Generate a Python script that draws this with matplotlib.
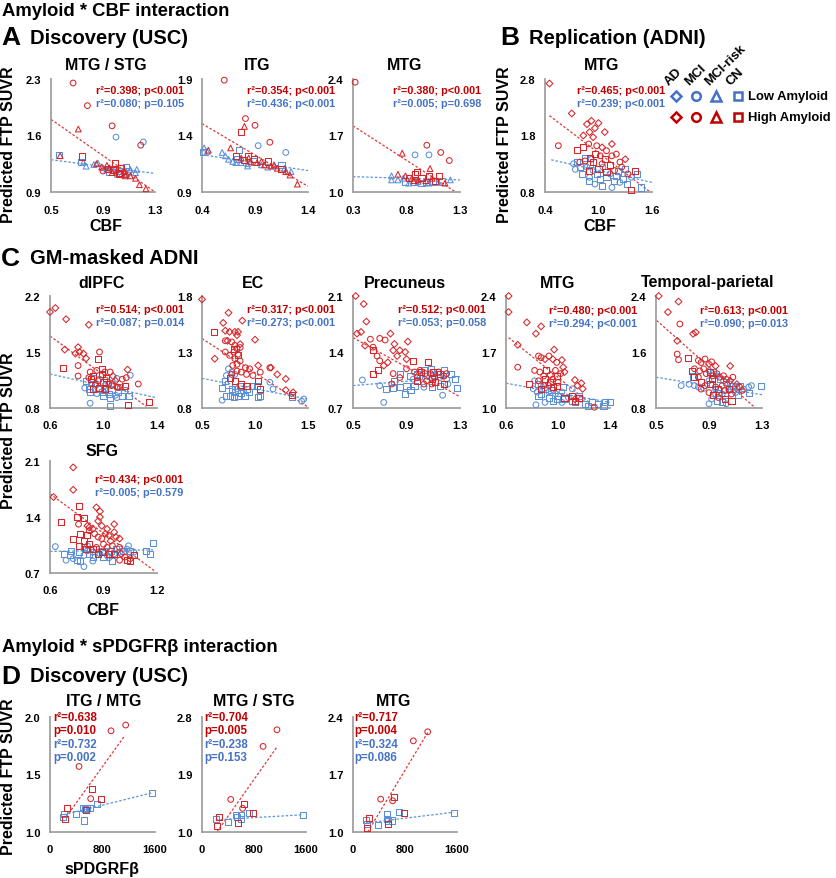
import matplotlib
matplotlib.use('Agg')
import matplotlib.pyplot as plt

plt.rcParams['font.family'] = ['Liberation Sans', 'DejaVu Sans']
plt.rcParams['font.weight'] = 'bold'

W, H = 837, 879
fig = plt.figure(figsize=(W / 100, H / 100), dpi=100)

RED_M, BLUE_M = '#D7262A', '#5B8FD8'
RED_T, BLUE_T = '#C00000', '#4472C4'
RED_L, BLUE_L = '#E03838', '#5B95D5'

# ---------------- data (group codes: D=AD, o=MCI, ^=MCI-risk, s=CN) -------------
A1_hi_x = [0.67,0.78,0.71,0.97,1.19,0.57,0.74,0.99,0.85,0.89,0.93,0.95,0.98,1.01,1.03,1.06,1.08,1.02,0.97,1.04,1.07,1.11,1.15,1.18,1.23,0.94,0.90]
A1_hi_y = [2.25,1.97,1.68,1.72,1.48,1.35,1.34,1.26,1.25,1.21,1.23,1.20,1.17,1.18,1.14,1.16,1.12,1.12,1.14,1.20,1.10,1.10,1.07,0.99,0.94,1.18,1.16]
A1_hi_g = "oo^oo^ss^^^^s^s^^s^s^^^^^so"
A1_lo_x = [1.00,1.21,0.56,0.73,0.75,0.77,0.83,0.86,0.90,0.93,0.95,0.98,1.03,1.08,1.11,1.15,1.01,1.06,1.16,1.09]
A1_lo_y = [1.58,1.52,1.36,1.27,1.27,1.22,1.24,1.26,1.20,1.18,1.15,1.17,1.16,1.21,1.18,1.14,1.12,1.12,1.18,1.16]
A1_lo_g = "ooss^^^^^^s^ss^^^s^s"

A2_hi_x = [0.61,0.81,0.80,0.90,0.77,1.04,0.46,0.67,0.72,0.77,0.80,0.83,0.86,0.89,0.92,0.96,0.99,1.02,1.05,1.08,1.11,1.15,1.19,1.23,1.30,0.84]
A2_hi_y = [1.89,1.55,1.48,1.49,1.43,1.34,1.27,1.29,1.22,1.20,1.18,1.22,1.17,1.19,1.16,1.17,1.14,1.17,1.13,1.14,1.11,1.10,1.08,1.05,0.97,1.20]
A2_hi_g = "oo^oso^^s^ss^s^^^s^^^s^^^^"
A2_lo_x = [0.42,0.41,0.45,0.93,1.19,0.75,0.59,0.62,0.65,0.69,0.73,0.77,0.83,0.89,0.96,1.02,1.08,1.15,1.18,1.24,0.83,0.72]
A2_lo_y = [1.29,1.25,1.26,1.31,1.25,1.27,1.25,1.22,1.19,1.17,1.19,1.16,1.15,1.17,1.14,1.12,1.13,1.14,1.11,1.08,1.13,1.16]
A2_lo_g = "^s^oos^^^^s^^s^^^s^^^^"

A3_hi_x = [0.32,0.99,1.12,1.20,0.76,0.72,1.02,0.79,0.82,0.85,0.88,0.91,0.94,0.98,1.01,1.04,1.07,0.90,1.16,1.10,0.87]
A3_hi_y = [2.36,1.58,1.49,1.39,1.48,1.22,1.29,1.20,1.17,1.17,1.22,1.15,1.17,1.14,1.20,1.17,1.14,1.25,1.11,1.20,1.14]
A3_hi_g = "oooo^^^^s^s^s^s^ss^s^"
A3_lo_x = [0.88,1.01,0.66,0.66,0.72,0.79,0.82,0.87,0.91,0.94,0.98,1.01,1.05,1.10,1.13,1.21,0.77]
A3_lo_y = [1.46,1.46,1.20,1.15,1.15,1.13,1.11,1.12,1.13,1.11,1.12,1.11,1.13,1.12,1.13,1.15,1.17]
A3_lo_g = "oo^^^s^s^ss^s^s^^"

B_hi_x = [0.45,0.70,0.87,0.92,0.96,1.00,0.90,1.07,0.83,0.94,0.55,0.76,0.83,0.89,0.98,1.04,1.09,0.96,1.02,0.90,1.15,1.20,1.07,0.85,0.94,1.04,1.13,1.24,1.30,0.79,1.00,1.18,1.09,1.41,1.33,1.36,1.26,0.89,1.15]
B_hi_y = [2.72,2.19,2.00,2.06,1.93,2.02,1.86,1.86,1.80,1.77,1.62,1.54,1.60,1.65,1.62,1.59,1.53,1.47,1.44,1.41,1.44,1.47,1.38,1.35,1.33,1.30,1.27,1.33,1.38,1.33,1.21,1.18,1.15,1.18,1.12,0.84,1.24,1.18,1.65]
B_hi_g = "DDDDDDDDDD" + "ossooDosos" + "oosososoDo" + "sossososD"
B_lo_x = [0.74,0.72,0.76,0.87,0.81,0.90,0.85,0.90,0.94,0.98,1.02,1.05,1.09,1.13,1.17,1.20,1.24,1.28,1.32,1.37,1.43,1.48,0.96,1.04,0.79,0.92,1.22,0.89,1.15,1.30]
B_lo_y = [1.20,1.30,1.33,1.24,1.12,1.06,1.41,1.30,1.18,1.12,1.03,1.24,1.06,1.12,1.00,1.09,0.97,1.03,0.94,1.06,1.12,0.88,0.94,0.91,1.24,1.38,1.18,1.00,0.88,1.21]
B_lo_g = "oososossos" + "sosossosso" + "ssossossos"

C1_hi_x = [0.60,0.64,0.72,0.89,0.71,0.81,0.82,0.85,0.87,0.79,0.97,0.96,0.70,0.81,0.81,0.90,0.92,0.95,0.99,1.01,1.02,1.05,1.07,0.91,0.96,1.00,1.04,0.92,0.97,1.01,1.06,1.09,1.10,0.89,0.94,0.99,1.18,1.26,1.17,1.14,1.11,1.16,1.18,1.34]
C1_hi_y = [2.00,2.05,1.91,1.84,1.53,1.56,1.50,1.48,1.42,1.48,1.50,1.41,1.30,1.33,1.20,1.25,1.20,1.27,1.23,1.25,1.18,1.25,1.20,1.16,1.14,1.12,1.10,1.04,1.05,1.04,1.08,1.14,1.06,1.18,1.10,1.29,1.28,1.10,1.18,1.16,1.06,1.08,0.84,0.88]
C1_hi_g = "DDDDDDDDDD" + "ossooososo" + "soDsososss" + "oDooosDooo" + "osss"
C1_lo_x = [0.86,0.90,1.05,1.19,1.20,1.10,0.87,0.91,0.94,0.96,0.99,1.01,1.04,1.06,1.09,1.11,1.14,0.90,0.95,1.00,1.05,1.10,0.92,0.97,1.02,1.07,1.12,1.15,1.01,0.89]
C1_lo_y = [1.05,0.86,0.83,0.95,1.21,1.17,1.14,1.12,1.08,1.04,1.00,1.04,0.98,1.02,0.96,1.00,0.95,1.00,0.98,0.95,0.93,0.93,1.18,1.16,1.12,1.10,1.06,1.02,1.08,1.04]
C1_lo_g = "oossoossos" + "sossosssos" + "sososossos"

C2_hi_x = [0.50,0.75,0.70,0.88,0.72,0.76,0.81,0.84,0.83,1.00,0.74,0.86,0.61,0.72,0.78,0.81,0.83,0.86,0.80,0.84,0.76,0.81,0.83,0.86,0.79,0.87,0.83,0.91,0.92,0.95,0.98,1.05,0.78,0.72,0.80,0.84,0.76,0.81,0.87,0.92,1.03,1.05,0.62,1.15,1.21,1.29,1.29,1.36,1.03,1.35,1.14]
C2_hi_y = [1.77,1.65,1.56,1.58,1.49,1.48,1.48,1.48,1.45,1.41,1.40,1.37,1.48,1.40,1.39,1.36,1.33,1.34,1.30,1.28,1.27,1.24,1.19,1.22,1.18,1.12,1.13,1.16,1.10,1.15,1.09,1.12,1.10,1.30,1.33,1.27,1.07,1.04,1.01,1.00,1.04,0.97,1.24,1.16,1.10,1.06,0.96,0.94,1.18,0.92,1.16]
C2_hi_g = "DDDDDDDDDDDD" + "s" + "ooooooooooooooooooooo" + "ssssssss" + "DDDDDDD" + "so"
C2_lo_x = [0.69,1.46,1.44,0.69,0.72,0.75,0.78,0.81,0.84,0.87,0.91,0.94,0.73,0.76,0.80,0.83,0.86,0.89,0.92,0.97,1.02,1.05,1.03,0.73,0.78,0.81,1.14,1.17,1.35,0.75]
C2_lo_y = [0.87,0.88,0.86,0.98,1.04,1.01,0.97,0.94,0.91,0.93,0.91,0.94,0.91,0.91,0.90,0.97,1.00,0.95,0.97,1.00,1.00,0.91,0.90,1.09,1.12,1.10,1.03,0.97,0.90,1.15]
C2_lo_g = "ooo" + "ssssssssssss" + "osos" + "ssss" + "ooooo" + "so"

C3_hi_x = [0.52,0.58,0.60,0.56,0.53,0.59,0.63,0.70,0.74,0.65,0.68,0.78,0.80,0.85,0.89,0.91,0.81,0.83,0.90,0.73,0.76,0.65,0.69,0.65,0.95,1.06,1.01,1.10,1.15,1.09,0.70,0.80,0.85,0.90,0.96,1.00,1.04,1.08,1.11,1.14,1.18,1.20,0.98,1.05,1.03,1.09,0.98,1.11,1.18,0.79]
C3_hi_y = [2.10,2.00,1.78,1.65,1.63,1.48,1.56,1.57,1.55,1.46,1.35,1.63,1.42,1.42,1.40,1.53,1.50,1.35,1.31,1.23,1.27,1.42,1.18,1.13,1.29,1.28,1.15,1.15,1.13,1.06,1.29,1.13,1.08,1.19,1.15,1.17,1.13,1.13,1.08,1.15,1.10,1.13,1.08,1.04,1.00,1.00,1.04,1.03,1.00,1.00]
C3_hi_g = "DDDDDD" + "ooooo" + "DDDDDDDDDD" + "sssssssss" + "oooooooooooooooo" + "sss" + "o"
C3_lo_x = [0.57,0.73,0.70,0.80,0.85,0.93,0.89,0.85,0.81,0.75,0.93,0.95,0.98,1.00,1.03,1.05,1.08,1.10,1.13,1.15,1.18,1.20,1.23,1.26,1.28,1.17,0.90,0.96,1.03,1.09,1.15,1.21]
C3_lo_y = [1.05,0.77,0.98,0.95,0.96,0.92,0.88,1.13,1.04,0.94,1.10,1.06,1.13,1.08,1.17,1.10,1.19,1.10,1.15,1.08,1.17,1.06,1.13,1.06,0.95,0.86,0.98,0.98,0.96,0.96,0.98,1.00]
C3_lo_g = "ooo" + "ssssssss" + "osososososo" + "sss" + "o" + "ss" + "o" + "ss" + "o"

C4_hi_x = [0.62,0.62,0.76,0.87,0.83,0.69,0.97,0.69,0.85,0.87,0.90,0.93,0.96,0.99,1.03,1.04,0.82,0.86,0.89,0.91,0.94,0.96,0.99,1.00,0.85,0.89,0.93,0.96,0.98,1.02,1.05,0.78,0.90,0.94,0.99,0.87,1.13,1.18,1.15,1.19,1.13,1.11,1.13,1.16,1.05,1.28]
C4_hi_y = [2.40,2.20,2.07,2.02,1.93,1.79,1.73,1.51,1.65,1.63,1.61,1.65,1.61,1.57,1.60,1.51,1.47,1.45,1.40,1.47,1.41,1.36,1.40,1.32,1.34,1.28,1.28,1.26,1.47,1.43,1.45,1.30,1.36,1.32,1.28,1.24,1.35,1.31,1.28,1.24,1.11,1.15,1.09,1.13,1.13,1.01]
C4_hi_g = "DDDDDDD" + "ooo" + "DoDo" + "DD" + "ooo" + "s" + "oo" + "s" + "oooo" + "s" + "oo" + "D" + "sssss" + "DDDDD" + "ssss" + "o"
C4_lo_x = [0.83,1.36,1.40,1.31,1.35,1.23,0.82,0.85,0.87,0.90,0.93,0.95,0.98,1.00,1.03,1.05,1.08,1.11,0.96,0.99,0.90,0.93,1.03,1.13,1.18,0.87,0.84,0.85,0.81,1.04,1.11,1.16,1.21,1.26]
C4_lo_y = [1.04,1.07,1.08,1.05,1.03,1.03,1.34,1.30,1.28,1.24,1.20,1.22,1.18,1.15,1.20,1.11,1.13,1.09,1.09,1.11,1.07,1.13,1.07,1.07,1.11,1.18,1.20,1.15,1.24,1.26,1.24,1.15,1.05,1.07]
C4_lo_g = "o" + "sssss" + "osososososos" + "ss" + "osososososo" + "sss"

C5_hi_x = [0.52,0.67,0.59,0.78,0.80,0.66,0.68,0.66,0.67,0.74,0.82,0.84,0.87,0.90,0.92,0.95,0.79,0.83,0.86,0.88,0.91,0.93,0.96,0.98,1.01,1.03,1.06,1.08,1.11,1.13,0.82,0.84,0.87,0.91,0.95,0.97,1.00,1.02,1.05,1.07,0.90,0.93,0.97,1.02,0.84,1.06,0.77,0.79,0.92,1.07,1.15]
C5_hi_y = [2.40,2.32,2.17,1.86,1.88,1.76,2.00,1.57,1.49,1.52,1.48,1.45,1.50,1.43,1.46,1.40,1.36,1.33,1.36,1.29,1.31,1.26,1.29,1.24,1.26,1.21,1.19,1.24,1.14,1.10,1.24,1.17,1.12,1.14,1.10,1.07,1.12,1.05,1.07,1.00,1.02,0.98,0.95,0.93,1.07,1.40,1.33,1.24,1.21,0.90,1.05]
C5_hi_g = "DDDDDD" + "ooo" + "s" + "ooo" + "DoD" + "oooo" + "s" + "ooooo" + "DoD" + "oo" + "sosos" + "oo" + "soo" + "sosoD" + "ssss" + "o"
C5_lo_x = [0.78,1.29,0.75,0.79,0.82,0.86,0.69,0.90,0.93,0.96,0.98,1.01,1.03,1.06,1.08,1.11,1.13,1.16,1.20,0.90,0.92,0.95,0.97,1.00,1.02,1.05,1.07,1.10,1.12,0.92,0.96,1.00,1.03,0.90,0.95,1.22,1.20]
C5_lo_y = [1.25,1.12,1.14,1.12,1.10,1.08,1.12,1.33,1.31,1.26,1.21,1.19,1.17,1.14,1.12,1.10,1.12,1.07,1.10,1.19,1.14,1.07,1.02,1.00,0.98,1.05,1.07,1.02,0.98,0.93,0.90,0.88,0.86,0.86,1.00,1.12,1.02]
C5_lo_g = "ss" + "ooooo" + "o" + "sososososo" + "oo" + "sososososo" + "ss" + "oooo" + "s"

SFG_hi_x = [0.73,0.73,0.62,0.76,0.66,0.75,0.79,0.86,0.88,0.88,0.87,0.81,0.82,0.84,0.89,0.92,0.96,0.91,0.93,0.96,0.97,0.99,0.94,0.76,0.82,0.85,0.87,0.89,0.90,0.92,0.95,0.86,0.99,1.00,0.99,1.02,1.05,0.73,0.77,0.79,0.81,0.82,0.84,0.87,0.89,0.93,0.96,1.03,1.05,1.07,0.80,0.76]
SFG_hi_y = [2.02,1.74,1.65,1.54,1.34,1.40,1.39,1.52,1.47,1.40,1.35,1.29,1.27,1.25,1.29,1.25,1.31,1.19,1.17,1.21,1.15,1.13,1.10,1.31,1.23,1.19,1.15,1.13,1.06,1.02,1.04,1.02,1.02,0.94,0.86,0.90,0.88,1.13,1.19,1.10,1.17,1.06,1.00,0.94,0.96,0.94,0.94,0.86,0.85,0.92,1.00,1.04]
SFG_hi_g = "DDD" + "ssss" + "DDDDDDDDDDDDDDDD" + "oooooooooooooo" + "sssssssssssssss"
SFG_lo_x = [0.63,0.79,0.84,1.18,1.16,1.14,0.68,0.71,0.73,0.75,0.77,0.79,0.69,0.72,0.76,0.81,0.82,0.84,0.86,0.88,0.90,0.92,0.94,0.96,0.97,0.99,1.01,1.03,1.05,1.07,0.90,0.93,0.95,0.84,0.79,0.81,1.04]
SFG_lo_y = [1.03,0.78,0.85,1.07,0.94,0.98,0.94,0.92,0.88,0.86,0.85,0.92,0.86,0.98,0.96,0.98,0.94,0.96,1.00,0.94,0.97,0.92,0.98,0.94,1.00,0.96,0.98,1.00,0.98,0.96,0.90,0.89,0.85,0.90,1.02,1.04,1.04]
SFG_lo_g = "ooo" + "sssss" + "o" + "ss" + "oo" + "ss" + "osososososososo" + "so" + "sss" + "oo"

D1_hi_x = [1153, 930, 442, 635, 620, 782, 254, 229, 549]
D1_hi_y = [1.93, 1.88, 1.57, 1.37, 1.29, 1.29, 1.21, 1.11, 1.19]
D1_hi_g = "ooosossss"
D1_lo_x = [213, 205, 391, 498, 533, 569, 610, 711, 1549, 523]
D1_lo_y = [1.16, 1.13, 1.16, 1.21, 1.20, 1.21, 1.21, 1.24, 1.34, 1.10]
D1_lo_g = "ssssssssss"

D2_hi_x = [1153, 940, 442, 645, 625, 787, 264, 229, 554]
D2_hi_y = [2.60, 2.34, 1.51, 1.44, 1.37, 1.29, 1.23, 1.09, 1.14]
D2_hi_g = "ooosossss"
D2_lo_x = [213, 401, 518, 543, 594, 605, 721, 1559]
D2_lo_y = [1.20, 1.16, 1.27, 1.23, 1.20, 1.26, 1.30, 1.26]
D2_lo_g = "ssssssss"

D3_hi_x = [1149, 928, 426, 631, 610, 785, 246, 221, 544]
D3_hi_y = [2.22, 2.11, 1.40, 1.43, 1.38, 1.23, 1.17, 1.05, 1.10]
D3_hi_g = "ooosossss"
D3_lo_x = [200, 390, 518, 518, 544, 595, 713, 1549, 210]
D3_lo_y = [1.15, 1.08, 1.22, 1.16, 1.13, 1.14, 1.24, 1.23, 1.10]
D3_lo_g = "sssssssss"

# trendlines: ([x0, x1], [y0, y1])
A1_fit = (([0.5, 1.3], [1.80, 0.90]), ([0.5, 1.3], [1.30, 1.13]))
A2_fit = (([0.4, 1.4], [1.505, 0.95]), ([0.4, 1.4], [1.23, 1.09]))
A3_fit = (([0.3, 1.26], [1.82, 1.0]), ([0.3, 1.3], [1.19, 1.15]))
B_fit = (([0.45, 1.58], [2.15, 0.80]), ([0.47, 1.60], [1.37, 0.97]))
C1_fit = (([0.6, 1.32], [1.70, 0.82]), ([0.6, 1.39], [1.225, 0.93]))
C2_fit = (([0.5, 1.49], [1.42, 0.815]), ([0.5, 1.49], [1.065, 0.88]))
C3_fit = (([0.5, 1.29], [1.58, 0.85]), ([0.5, 1.3], [0.98, 1.09]))
C4_fit = (([0.62, 1.27], [1.88, 1.03]), ([0.6, 1.4], [1.31, 1.07]))
C5_fit = (([0.505, 1.25], [2.05, 0.80]), ([0.5, 1.3], [1.24, 0.99]))
SFG_fit = (([0.6, 1.19], [1.69, 0.72]), ([0.6, 1.19], [0.97, 0.99]))
D1_fit = (([244, 1143], [1.13, 1.84]), ([213, 1549], [1.15, 1.34]))
D2_fit = (([229, 1153], [1.0, 2.33]), ([213, 1559], [1.19, 1.27]))
D3_fit = (([226, 1149], [1.0, 2.21]), ([200, 1544], [1.11, 1.24]))

# ------------------------------------------------------------------------------
SIZE = {'D': 12, 'o': 17, '^': 17, 's': 19}


def draw(rect, xlim, ylim, xfmt, yfmt, hi, lo, fit):
    l, t, r, b = rect
    ax = fig.add_axes([l / W, 1 - b / H, (r - l) / W, (b - t) / H])
    ax.set_facecolor('none')
    ax.set_xlim(xlim[0], xlim[-1])
    ax.set_ylim(ylim[0], ylim[-1])
    for (xs, ys, gs), col in ((lo, BLUE_M), (hi, RED_M)):
        assert len(xs) == len(ys) == len(gs), (len(xs), len(ys), len(gs))
        for m in 'so^D':
            px = [x for x, g in zip(xs, gs) if g == m]
            py = [y for y, g in zip(ys, gs) if g == m]
            if px:
                ax.scatter(px, py, s=SIZE[m], marker=m, facecolors='none',
                           edgecolors=col, linewidths=0.75, clip_on=False, zorder=3)
    (hx, hy), (lx, ly) = fit
    ax.plot(hx, hy, ls=(0, (2, 1.5)), color=RED_L, lw=0.9, zorder=2)
    ax.plot(lx, ly, ls=(0, (2, 1.5)), color=BLUE_L, lw=0.9, zorder=2)
    for s in ('top', 'right'):
        ax.spines[s].set_visible(False)
    for s in ('left', 'bottom'):
        ax.spines[s].set_color('#A0A0A0')
        ax.spines[s].set_linewidth(1.3)
    ax.set_xticks(xlim)
    ax.set_xticklabels([xfmt.format(v) for v in xlim])
    ax.set_yticks(ylim)
    ax.set_yticklabels([yfmt.format(v) for v in ylim])
    ax.tick_params(axis='both', length=0, labelsize=8)
    ax.tick_params(axis='x', pad=9)
    ax.tick_params(axis='y', pad=7)
    for lab in ax.get_xticklabels() + ax.get_yticklabels():
        lab.set_fontweight('bold')
    return ax


def ftext(px, py, s, **kw):
    kw.setdefault('fontweight', 'bold')
    fig.text(px / W, 1 - py / H, s, **kw)


# panel A
draw((51, 80, 155, 193), [0.5, 0.9, 1.3], [0.9, 1.6, 2.3], '{:.1f}', '{:.1f}',
     (A1_hi_x, A1_hi_y, A1_hi_g), (A1_lo_x, A1_lo_y, A1_lo_g), A1_fit)
draw((202, 80, 308, 193), [0.4, 0.9, 1.4], [0.9, 1.4, 1.9], '{:.1f}', '{:.1f}',
     (A2_hi_x, A2_hi_y, A2_hi_g), (A2_lo_x, A2_lo_y, A2_lo_g), A2_fit)
draw((353, 80, 460, 193), [0.3, 0.8, 1.3], [1.0, 1.7, 2.4], '{:.1f}', '{:.1f}',
     (A3_hi_x, A3_hi_y, A3_hi_g), (A3_lo_x, A3_lo_y, A3_lo_g), A3_fit)
# panel B
draw((545, 80, 652, 193), [0.4, 1.0, 1.6], [0.8, 1.8, 2.8], '{:.1f}', '{:.1f}',
     (B_hi_x, B_hi_y, B_hi_g), (B_lo_x, B_lo_y, B_lo_g), B_fit)
# panel C
draw((50, 297, 157, 409), [0.6, 1.0, 1.4], [0.8, 1.5, 2.2], '{:.1f}', '{:.1f}',
     (C1_hi_x, C1_hi_y, C1_hi_g), (C1_lo_x, C1_lo_y, C1_lo_g), C1_fit)
draw((202, 297, 308, 409), [0.5, 1.0, 1.5], [0.8, 1.3, 1.8], '{:.1f}', '{:.1f}',
     (C2_hi_x, C2_hi_y, C2_hi_g), (C2_lo_x, C2_lo_y, C2_lo_g), C2_fit)
draw((353, 297, 460, 409), [0.5, 0.9, 1.3], [0.7, 1.4, 2.1], '{:.1f}', '{:.1f}',
     (C3_hi_x, C3_hi_y, C3_hi_g), (C3_lo_x, C3_lo_y, C3_lo_g), C3_fit)
draw((506, 297, 610, 409), [0.6, 1.0, 1.4], [1.0, 1.7, 2.4], '{:.1f}', '{:.1f}',
     (C4_hi_x, C4_hi_y, C4_hi_g), (C4_lo_x, C4_lo_y, C4_lo_g), C4_fit)
draw((656, 297, 762, 409), [0.5, 0.9, 1.3], [0.8, 1.6, 2.4], '{:.1f}', '{:.1f}',
     (C5_hi_x, C5_hi_y, C5_hi_g), (C5_lo_x, C5_lo_y, C5_lo_g), C5_fit)
draw((50, 462, 157, 574), [0.6, 0.9, 1.2], [0.7, 1.4, 2.1], '{:.1f}', '{:.1f}',
     (SFG_hi_x, SFG_hi_y, SFG_hi_g), (SFG_lo_x, SFG_lo_y, SFG_lo_g), SFG_fit)
# panel D
draw((50, 718, 155, 833), [0, 800, 1600], [1.0, 1.5, 2.0], '{:d}', '{:.1f}',
     (D1_hi_x, D1_hi_y, D1_hi_g), (D1_lo_x, D1_lo_y, D1_lo_g), D1_fit)
draw((202, 718, 306, 833), [0, 800, 1600], [1.0, 1.9, 2.8], '{:d}', '{:.1f}',
     (D2_hi_x, D2_hi_y, D2_hi_g), (D2_lo_x, D2_lo_y, D2_lo_g), D2_fit)
draw((353, 718, 457, 833), [0, 800, 1600], [1.0, 1.7, 2.4], '{:d}', '{:.1f}',
     (D3_hi_x, D3_hi_y, D3_hi_g), (D3_lo_x, D3_lo_y, D3_lo_g), D3_fit)

# headings
ftext(2, 11, 'Amyloid * CBF interaction', fontsize=13.3, va='center')
ftext(1, 38, 'A', fontsize=19, va='center')
ftext(30, 38, 'Discovery (USC)', fontsize=14.5, va='center')
ftext(500, 38, 'B', fontsize=19, va='center')
ftext(529, 38, 'Replication (ADNI)', fontsize=14.5, va='center')
ftext(1, 259, 'C', fontsize=19, va='center')
ftext(30, 259, 'GM-masked ADNI', fontsize=14.5, va='center')
ftext(2, 648, 'Amyloid * sPDGFR\u03b2 interaction', fontsize=13.3, va='center')
ftext(1, 677, 'D', fontsize=19, va='center')
ftext(30, 677, 'Discovery (USC)', fontsize=14.5, va='center')

# panel titles
titles = [(106, 65, 'MTG / STG'), (257, 65, 'ITG'), (405, 65, 'MTG'), (602, 65, 'MTG'),
          (102, 283, 'dlPFC'), (253, 283, 'EC'), (405, 283, 'Precuneus'), (558, 283, 'MTG'),
          (708, 283, 'Temporal-parietal'), (102, 452, 'SFG'),
          (104, 702, 'ITG / MTG'), (254, 702, 'MTG / STG'), (394, 702, 'MTG')]
for x, y, s in titles:
    ftext(x, y, s, fontsize=11.5, ha='center', va='center')

# stats
stats2 = [(96, 91, 'r\u00b2=0.398; p<0.001', 'r\u00b2=0.080; p=0.105'),
          (247, 91, 'r\u00b2=0.354; p<0.001', 'r\u00b2=0.436; p<0.001'),
          (393, 91, 'r\u00b2=0.380; p<0.001', 'r\u00b2=0.005; p=0.698'),
          (577, 91, 'r\u00b2=0.465; p<0.001', 'r\u00b2=0.239; p<0.001'),
          (96, 310, 'r\u00b2=0.514; p<0.001', 'r\u00b2=0.087; p=0.014'),
          (247, 310, 'r\u00b2=0.317; p<0.001', 'r\u00b2=0.273; p<0.001'),
          (398, 310, 'r\u00b2=0.512; p<0.001', 'r\u00b2=0.053; p=0.058'),
          (549, 311, 'r\u00b2=0.480; p<0.001', 'r\u00b2=0.294; p<0.001'),
          (700, 311, 'r\u00b2=0.613; p<0.001', 'r\u00b2=0.090; p=0.013'),
          (95, 480, 'r\u00b2=0.434; p<0.001', 'r\u00b2=0.005; p=0.579')]
for x, y, s1, s2 in stats2:
    ftext(x, y, s1, fontsize=7.8, color=RED_T, va='center')
    ftext(x, y + 13, s2, fontsize=7.8, color=BLUE_T, va='center')

stats4 = [(53, 'r\u00b2=0.638', 'p=0.010', 'r\u00b2=0.732', 'p=0.002'),
          (204, 'r\u00b2=0.704', 'p=0.005', 'r\u00b2=0.238', 'p=0.153'),
          (354, 'r\u00b2=0.717', 'p=0.004', 'r\u00b2=0.324', 'p=0.086')]
for x, a, b, c, d in stats4:
    for i, (s, col) in enumerate([(a, RED_T), (b, RED_T), (c, BLUE_T), (d, BLUE_T)]):
        ftext(x, 718 + 13.3 * i, s, fontsize=8.3, color=col, va='center')

# axis labels
for x, y in [(9, 145), (505, 145), (9, 431), (9, 777)]:
    ftext(x, y, 'Predicted FTP SUVR', fontsize=11.5, rotation=90, ha='center', va='center')
ftext(106, 227, 'CBF', fontsize=11.5, ha='center', va='center')
ftext(600, 227, 'CBF', fontsize=11.5, ha='center', va='center')
ftext(103, 611, 'CBF', fontsize=11.5, ha='center', va='center')
ftext(102, 870, 'sPDGRF\u03b2', fontsize=11.5, ha='center', va='center')

# legend
leg = fig.add_axes([0, 0, 1, 1])
leg.set_xlim(0, W)
leg.set_ylim(H, 0)
leg.axis('off')
leg_x = [676, 696, 716, 738]
leg_m = ['D', 'o', '^', 's']
leg_ms = [5.2, 6.2, 6.5, 6.0]
leg_lab = ['AD', 'MCI', 'MCI-risk', 'CN']
for x, m, ms, lab in zip(leg_x, leg_m, leg_ms, leg_lab):
    leg.plot([x], [97], marker=m, ms=ms, mfc='none', mec=BLUE_T, mew=1.8)
    leg.plot([x], [118], marker=m, ms=ms, mfc='none', mec=RED_T, mew=1.8)
    leg.text(x - 5, 88, lab, rotation=45, rotation_mode='anchor', ha='left', va='bottom',
             fontsize=9.5, fontweight='bold')
leg.text(748, 97, 'Low Amyloid', fontsize=9.4, fontweight='bold', va='center')
leg.text(748, 118, 'High Amyloid', fontsize=9.4, fontweight='bold', va='center')

fig.savefig('out.png', dpi=100, facecolor='white')
